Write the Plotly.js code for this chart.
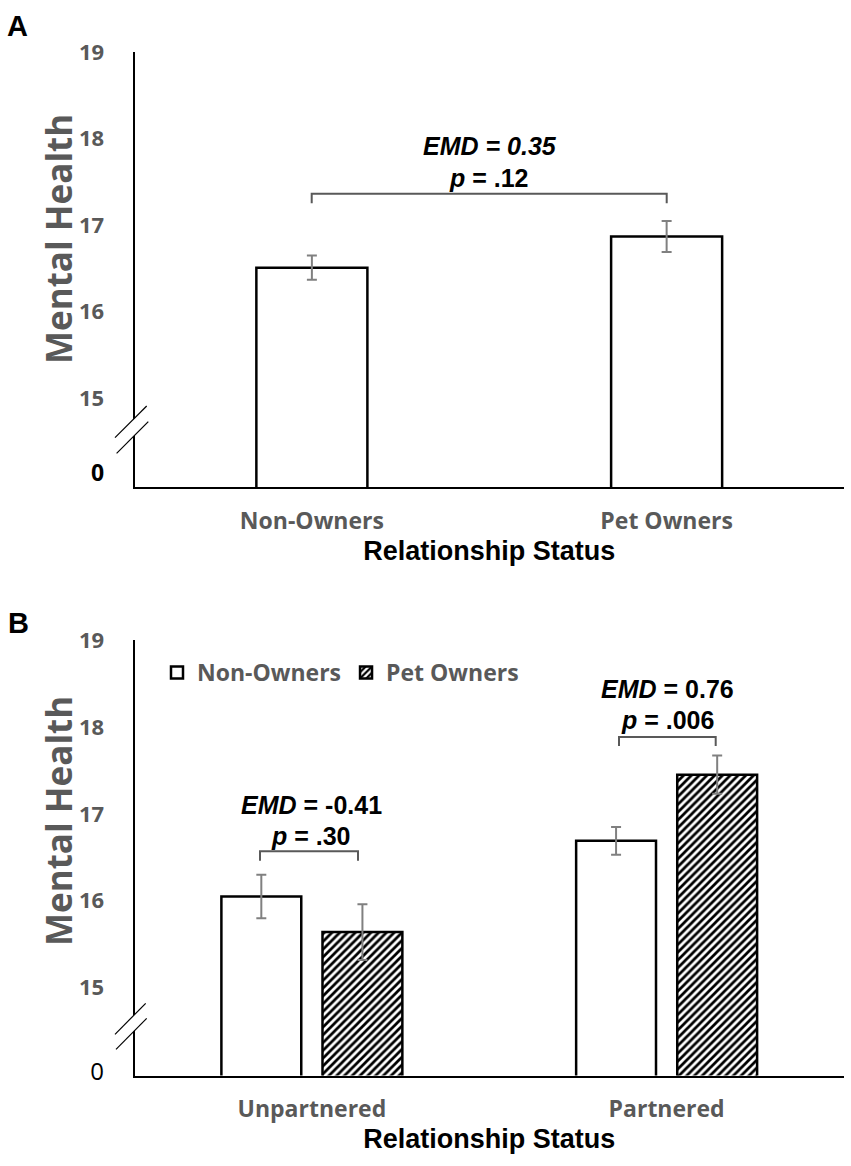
<!DOCTYPE html>
<html>
<head>
<meta charset="utf-8">
<script src="https://cdn.plot.ly/plotly-3.0.1.min.js"></script>
<style>html,body{margin:0;padding:0;background:#fff;}#chart{width:851px;height:1166px;}</style>
</head>
<body>
<div id="chart"></div>
<script>
// ---- Data ----
const groupsA = ['Non-Owners', 'Pet Owners'];
const meansA = [16.51, 16.87];
const errA = [0.14, 0.18];

const groupsB = ['Unpartnered', 'Partnered'];
const nonOwnersB = [16.05, 16.69];
const nonOwnersErrB = [0.25, 0.16];
const petOwnersB = [15.64, 17.45];
const petOwnersErrB = [0.32, 0.22];

const seriesNames = ['Non-Owners', 'Pet Owners'];
const yTickLabels = ['0', '15', '16', '17', '18', '19'];
const statsA = ['<b><i>EMD = 0.35</i></b>', '<b><i>p</i> = .12</b>'];
const statsB1 = ['<b><i>EMD</i> = -0.41</b>', '<b><i>p</i> = .30</b>'];
const statsB2 = ['<b><i>EMD</i> = 0.76</b>', '<b><i>p</i> = .006</b>'];

// ---- helpers (pixel -> paper) ----
const W = 851, H = 1166;
const px = x => x / W;
const py = y => 1 - y / H;

const GRAY = '#595959';
const SANS = '"Open Sans", "Noto Sans", sans-serif';
const ARIAL = '"Liberation Sans", Arial, sans-serif';

const errStyle = (arr) => ({type: 'data', array: arr, visible: true, color: '#808080', thickness: 2, width: 5});
const openMarker = {color: 'white', line: {color: 'black', width: 2.5}};
const hatchMarker = {color: 'white', line: {color: 'black', width: 2.5},
  pattern: {shape: '/', fgcolor: 'black', bgcolor: 'white', size: 5.5, solidity: 0.5}};

const traces = [
  {type: 'bar', x: groupsA, y: meansA, xaxis: 'x', yaxis: 'y', width: 0.313,
   marker: openMarker, error_y: errStyle(errA), showlegend: false, hoverinfo: 'skip'},
  {type: 'bar', name: seriesNames[0], x: groupsB, y: nonOwnersB, xaxis: 'x2', yaxis: 'y2',
   marker: openMarker, error_y: errStyle(nonOwnersErrB), hoverinfo: 'skip'},
  {type: 'bar', name: seriesNames[1], x: groupsB, y: petOwnersB, xaxis: 'x2', yaxis: 'y2',
   marker: hatchMarker, error_y: errStyle(petOwnersErrB), hoverinfo: 'skip'}
];

const xDomain = [px(134.5), px(844)];
const xAxisCommon = {
  domain: xDomain, showline: true, linecolor: 'black', linewidth: 2, ticks: '',
  showgrid: false, zeroline: false, fixedrange: true, ticklabelstandoff: 12,
  tickfont: {family: SANS, size: 23, color: GRAY, weight: 'bold'},
  title: {text: '<b>Relationship Status</b>', standoff: 3, font: {family: ARIAL, size: 27, color: 'black'}}
};
const yAxisCommon = {
  showline: true, linecolor: 'black', linewidth: 2, ticks: '', showgrid: false, zeroline: false,
  fixedrange: true, ticklabelstandoff: 24,
  tickfont: {family: SANS, size: 22, color: GRAY, weight: 'bold'}
};

const label0A = '<span style="fill:black;font-size:23px">' + yTickLabels[0] + '</span>';
const label0B = '<span style="fill:black;font-weight:normal;font-size:24px">' + yTickLabels[0] + '</span>';

function breakShapes(x1, y1, x2, y2, dx, dy) {
  return [
    {type: 'path', xref: 'paper', yref: 'paper', layer: 'above',
     path: `M ${px(x1)},${py(y1)} L ${px(x2)},${py(y2)} L ${px(x2+dx)},${py(y2+dy)} L ${px(x1+dx)},${py(y1+dy)} Z`,
     fillcolor: 'white', line: {width: 0}},
    {type: 'line', xref: 'paper', yref: 'paper', layer: 'above', x0: px(x1), y0: py(y1), x1: px(x2), y1: py(y2), line: {color: 'black', width: 1.2}},
    {type: 'line', xref: 'paper', yref: 'paper', layer: 'above', x0: px(x1+dx), y0: py(y1+dy), x1: px(x2+dx), y1: py(y2+dy), line: {color: 'black', width: 1.2}}
  ];
}
function bracket(xa, xb, ytop, yend) {
  return {type: 'path', xref: 'paper', yref: 'paper', layer: 'above',
    path: `M ${px(xa)},${py(yend)} L ${px(xa)},${py(ytop)} L ${px(xb)},${py(ytop)} L ${px(xb)},${py(yend)}`,
    line: {color: GRAY, width: 2}};
}

const shapes = [
  ...breakShapes(115, 437.7, 146.7, 406, 1.6, 15.6),
  ...breakShapes(115, 1034.3, 145.7, 1003.3, 1.0, 15.0),
  bracket(311.7, 666.7, 193.7, 203.3),
  bracket(260, 358, 851.3, 860.7),
  bracket(619, 715.7, 737, 746)
];

function ann(text, x, y, font, extra) {
  return Object.assign({text: text, xref: 'paper', yref: 'paper', x: px(x), y: py(y),
    xanchor: 'center', yanchor: 'middle', showarrow: false, font: font}, extra || {});
}
const statFont = {family: ARIAL, size: 25, color: 'black'};
const titleFont = {family: SANS, size: 35, color: GRAY, weight: 'bold'};
const annotations = [
  ann('<b>A</b>', 17, 26, {family: ARIAL, size: 29, color: 'black'}),
  ann('<b>B</b>', 18, 623, {family: ARIAL, size: 29, color: 'black'}),
  ann('<b>Mental Health</b>', 59, 239, titleFont, {textangle: -90}),
  ann('<b>Mental Health</b>', 58, 821, titleFont, {textangle: -90}),
  ann(statsA[0], 490, 146, statFont),
  ann(statsA[1], 489, 178, statFont),
  ann(statsB1[0], 311, 805, statFont),
  ann(statsB1[1], 311, 836, statFont),
  ann(statsB2[0], 667, 689, statFont),
  ann(statsB2[1], 667, 720, statFont)
];

const layout = {
  width: W, height: H,
  margin: {l: 0, r: 0, t: 0, b: 0},
  paper_bgcolor: 'white', plot_bgcolor: 'white',
  barmode: 'group', bargap: 0.43, bargroupgap: 0.21,
  showlegend: true,
  legend: {orientation: 'h', x: px(157), y: py(651), xanchor: 'left', yanchor: 'top',
    bgcolor: 'rgba(0,0,0,0)', itemwidth: 30, traceorder: 'normal',
    font: {family: SANS, size: 23, color: GRAY, weight: 'bold'}},
  xaxis: Object.assign({}, xAxisCommon, {anchor: 'y'}),
  yaxis: Object.assign({}, yAxisCommon, {anchor: 'x', domain: [py(487.3), py(52.3)], range: [13.97, 19],
    tickvals: [14.13, 15, 16, 17, 18, 19], ticktext: [label0A].concat(yTickLabels.slice(1))}),
  xaxis2: Object.assign({}, xAxisCommon, {anchor: 'y2'}),
  yaxis2: Object.assign({}, yAxisCommon, {anchor: 'x2', domain: [py(1075.5), py(640)], range: [13.99, 19],
    tickvals: [14.03, 15, 16, 17, 18, 19], ticktext: [label0B].concat(yTickLabels.slice(1))}),
  shapes: shapes,
  annotations: annotations
};

Plotly.newPlot('chart', traces, layout, {displayModeBar: false, staticPlot: true});
</script>
</body>
</html>
